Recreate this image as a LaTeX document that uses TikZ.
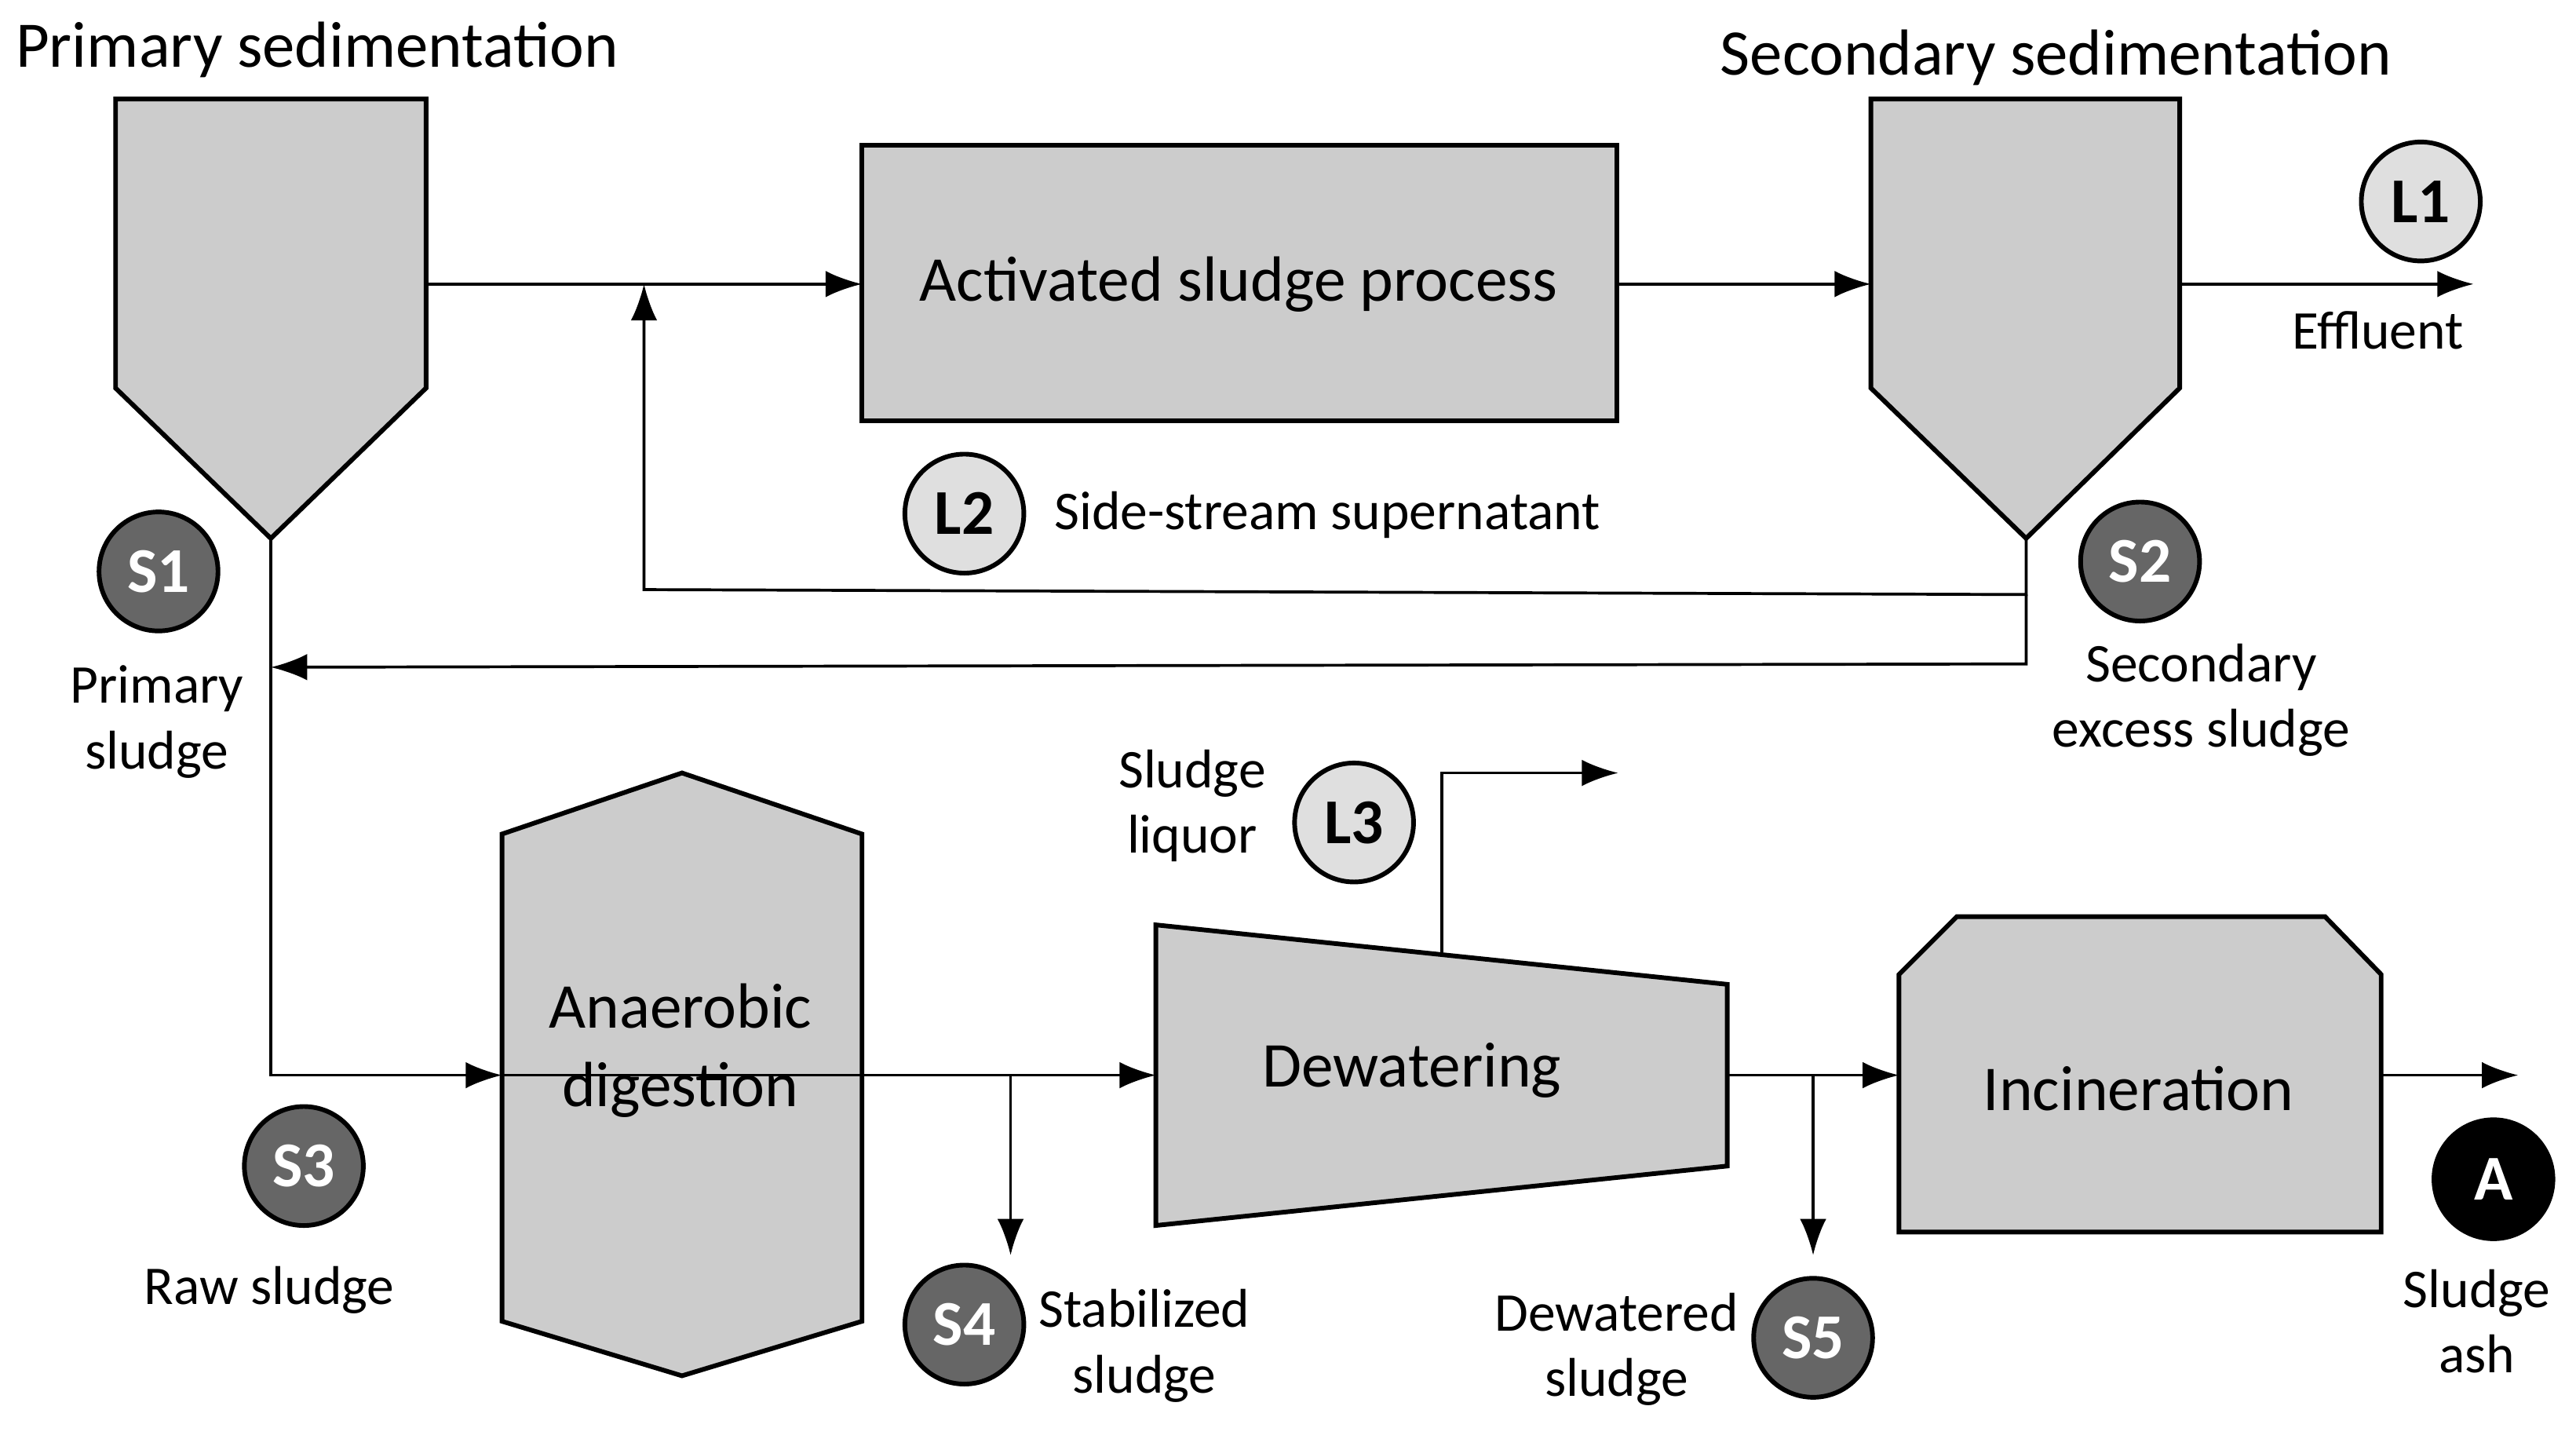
\documentclass[tikz,border=0pt]{standalone}
\usepackage{fontspec}
\setmainfont{Carlito}
\usetikzlibrary{arrows.meta}
\tikzset{
  unit/.style={draw=black, thick, fill=gray!40},
  flow/.style={-{Latex[length=2.2mm,width=1.6mm]}, line width=0.5pt},
  dark/.style={circle, draw=black, thick, fill=gray!80!black, text=white, minimum size=0.72cm, font=\fontsize{11}{11}\selectfont\bfseries, inner sep=0pt},
  light/.style={circle, draw=black, thick, fill=gray!25, text=black, minimum size=0.72cm, font=\fontsize{11}{11}\selectfont\bfseries, inner sep=0pt},
  black/.style={circle, draw=black, thick, fill=black, text=white, minimum size=0.72cm, font=\fontsize{11}{11}\selectfont\bfseries, inner sep=0pt},
  lbl/.style={align=center, font=\fontsize{9.4}{11.3}\selectfont},
  title/.style={font=\fontsize{11.2}{13}\selectfont},
  big/.style={font=\fontsize{11}{13.5}\selectfont, align=center}
}
\begin{document}
\begin{tikzpicture}[x=0.01cm, y=-0.01cm]
\useasboundingbox (0,0) rectangle (1560,871);

% process units
\draw[unit] (70,60) -- (258,60) -- (258,235) -- (164,326) -- (70,235) -- cycle;
\draw[unit] (1133,60) -- (1320,60) -- (1320,235) -- (1227,326) -- (1133,235) -- cycle;
\draw[unit] (522,88) rectangle (979,255);
\draw[unit] (304,505) -- (413,468) -- (522,505) -- (522,800) -- (413,833) -- (304,800) -- cycle;
\draw[unit] (700,560) -- (1046,596) -- (1046,706) -- (700,742) -- cycle;
\draw[unit] (1150,590) -- (1185,555) -- (1408,555) -- (1442,590) -- (1442,746) -- (1150,746) -- cycle;

\node[big] (asp) at (750,172) {Activated sludge process};
\node[big] (ad) at (412,636) {Anaerobic\\digestion};
\node[big] (dw) at (855,648) {Dewatering};
\node[big] (inc) at (1295,659) {Incineration};

% connection points
\coordinate (ps) at (258,172);
\coordinate (asin) at (522,172);
\coordinate (asout) at (979,172);
\coordinate (ssin) at (1133,172);
\coordinate (ssout) at (1320,172);
\coordinate (eff) at (1498,172);
\coordinate (psb) at (164,326);
\coordinate (ssb) at (1227,326);
\coordinate (rec) at (1227,360);
\coordinate (recu) at (390,172);
\coordinate (was) at (164,404);
\coordinate (adin) at (304,651);
\coordinate (dwin) at (700,651);
\coordinate (s4) at (612,760);
\coordinate (dwout) at (1046,651);
\coordinate (incin) at (1150,651);
\coordinate (s5) at (1098,760);
\coordinate (incout) at (1442,651);
\coordinate (ash) at (1525,651);
\coordinate (liq) at (873,577);
\coordinate (liqe) at (980,468);

% flows
\draw[flow] (ps) -- (asin);
\draw[flow] (asout) -- (ssin);
\draw[flow] (ssout) -- (eff);
\draw[flow] (ssb) -- (rec) -- (390,357) -- (recu);
\draw[flow] (rec) -- (1227,402) -- (was);
\draw[flow] (psb) |- (adin);
\draw[flow] (adin) -- (dwin);
\draw[flow] (612,651) -- (s4);
\draw[flow] (dwout) -- (incin);
\draw[flow] (1098,651) -- (s5);
\draw[flow] (incout) -- (ash);
\draw[flow] (liq) |- (liqe);

% stream markers
\node[dark] (S1) at (96,346) {S1};
\node[light] (L1) at (1466,122) {L1};
\node[light] (L2) at (584,311) {L2};
\node[dark] (S2) at (1296,340) {S2};
\node[light] (L3) at (820,498) {L3};
\node[dark] (S3) at (184,706) {S3};
\node[dark] (S4) at (584,802) {S4};
\node[dark] (S5) at (1098,810) {S5};
\node[black] (A) at (1510,714) {A};

% labels
\node[title] at (192,30) {Primary sedimentation};
\node[title] at (1245,35) {Secondary sedimentation};
\node[lbl] at (1440,200) {Effluent};
\node[lbl, anchor=west] at (626,312) {Side-stream supernatant};
\node[lbl] at (95,437) {Primary\\sludge};
\node[lbl] at (1333,424) {Secondary\\excess sludge};
\node[lbl] at (722,488) {Sludge\\liquor};
\node[lbl] at (163,781) {Raw sludge};
\node[lbl] at (693,815) {Stabilized\\sludge};
\node[lbl] at (979,817) {Dewatered\\sludge};
\node[lbl] at (1500,800) {Sludge\\ash};
\end{tikzpicture}
\end{document}
